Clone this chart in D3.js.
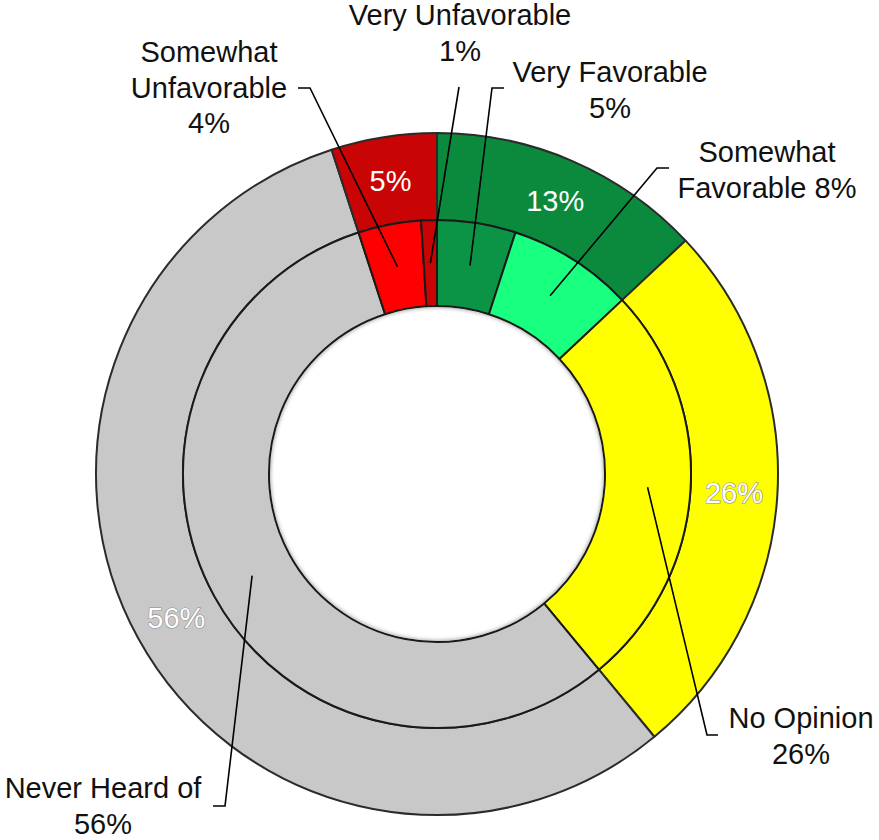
<!DOCTYPE html>
<html>
<head>
<meta charset="utf-8">
<script src="https://cdn.jsdelivr.net/npm/d3@7"></script>
<style>
  html, body { margin: 0; padding: 0; background: #ffffff; }
  svg { display: block; }
  text { font-family: "Liberation Sans", Arial, sans-serif; }
</style>
</head>
<body>
<div id="chart"></div>
<script>
// ---- Data ----
const outerCategories = ["Favorable", "No Opinion", "Never Heard of", "Unfavorable"];
const outerValues = [13, 26, 56, 5];
const outerColors = ["#0b8a3e", "#ffff00", "#c8c8c8", "#c80404"];

const innerCategories = ["Very Favorable", "Somewhat Favorable", "No Opinion", "Never Heard of", "Somewhat Unfavorable", "Very Unfavorable"];
const innerValues = [5, 8, 26, 56, 4, 1];
const innerColors = ["#0b9446", "#19ff7f", "#ffff00", "#c8c8c8", "#ff0000", "#c80404"];
const innerLabelLines = [
  ["Very Favorable", "5%"],
  ["Somewhat", "Favorable 8%"],
  ["No Opinion", "26%"],
  ["Never Heard of", "56%"],
  ["Somewhat", "Unfavorable", "4%"],
  ["Very Unfavorable", "1%"]
];

// ---- Layout (label placement) ----
const labelLayout = [
  { tx: 610, ty: 82,  elbow: [492, 88],  end: [504, 88] },
  { tx: 767, ty: 162, elbow: [657, 168], end: [669, 168] },
  { tx: 801, ty: 728, elbow: [707, 735], end: [718, 735] },
  { tx: 103, ty: 798, elbow: [225, 806], end: [213, 806] },
  { tx: 209, ty: 62,  elbow: [310, 88],  end: [298, 88] },
  { tx: 460, ty: 25,  elbow: [459, 87],  end: null }
];

const W = 879, H = 840;
const cx = 437, cy = 474;
const rOuter = 341, rMid = 254, rInner = 168;
const lineH = 35.5;
const fontSize = 29;

const svg = d3.select("#chart").append("svg").attr("width", W).attr("height", H);
const defs = svg.append("defs");
const f = defs.append("filter").attr("id", "blur").attr("x", "-20%").attr("y", "-20%").attr("width", "140%").attr("height", "140%");
f.append("feGaussianBlur").attr("stdDeviation", 2.2);

const g = svg.append("g").attr("transform", `translate(${cx},${cy})`);

const pie = d3.pie().sort(null).value(d => d);
const outerArcs = pie(outerValues);
const innerArcs = pie(innerValues);

const arcOuter = d3.arc().innerRadius(rMid).outerRadius(rOuter);
const arcInner = d3.arc().innerRadius(rInner).outerRadius(rMid);

g.selectAll("path.outer").data(outerArcs).enter().append("path")
  .attr("class", "outer")
  .attr("d", arcOuter)
  .attr("fill", (d, i) => outerColors[i])
  .attr("stroke", "#2b2b2b").attr("stroke-width", 2).attr("stroke-linejoin", "round");

g.selectAll("path.inner").data(innerArcs).enter().append("path")
  .attr("class", "inner")
  .attr("d", arcInner)
  .attr("fill", (d, i) => innerColors[i])
  .attr("stroke", "#1a1a1a").attr("stroke-width", 2).attr("stroke-linejoin", "round");

// soft shadow at the hole edge
const clip = defs.append("clipPath").attr("id", "holeclip");
clip.append("circle").attr("cx", cx).attr("cy", cy).attr("r", rInner - 1);
svg.append("circle").attr("cx", cx).attr("cy", cy).attr("r", rInner + 1)
  .attr("fill", "none").attr("stroke", "#8a8a8a").attr("stroke-width", 4)
  .attr("filter", "url(#blur)").attr("clip-path", "url(#holeclip)");

// outer ring percentage labels
const labelArc = d3.arc().innerRadius((rOuter + rMid) / 2).outerRadius((rOuter + rMid) / 2);
g.selectAll("text.pct").data(outerArcs).enter().append("text")
  .attr("class", "pct")
  .attr("transform", d => `translate(${labelArc.centroid(d)})`)
  .attr("text-anchor", "middle")
  .attr("dy", "0.36em")
  .attr("font-size", fontSize)
  .attr("fill", "#ffffff")
  .attr("stroke", (d, i) => (i === 1 || i === 2) ? "#8c8c8c" : "none")
  .attr("stroke-width", 1.2)
  .attr("paint-order", "stroke")
  .text((d, i) => outerValues[i] + "%");

// leader lines for inner ring
const centroidArc = d3.arc().innerRadius((rMid + rInner) / 2).outerRadius((rMid + rInner) / 2);
innerArcs.forEach((d, i) => {
  const c = centroidArc.centroid(d);
  const L = labelLayout[i];
  const pts = [[cx + c[0], cy + c[1]], L.elbow];
  if (L.end) pts.push(L.end);
  svg.append("path")
    .attr("d", d3.line()(pts))
    .attr("fill", "none").attr("stroke", "#000").attr("stroke-width", 1.6);
  const t = svg.append("text")
    .attr("x", L.tx).attr("y", L.ty)
    .attr("text-anchor", "middle")
    .attr("font-size", fontSize)
    .attr("fill", "#111");
  innerLabelLines[i].forEach((ln, k) => {
    t.append("tspan").attr("x", L.tx).attr("y", L.ty + k * lineH).text(ln);
  });
});
</script>
</body>
</html>
